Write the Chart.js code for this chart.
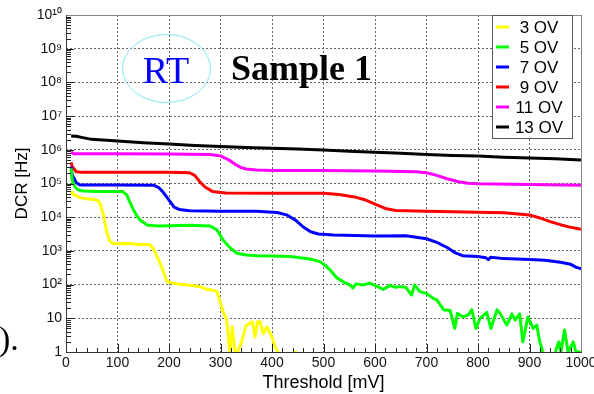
<!DOCTYPE html>
<html>
<head>
<meta charset="utf-8">
<script src="https://cdn.jsdelivr.net/npm/chart.js@4.4.1/dist/chart.umd.min.js"></script>
<style>
  html, body { margin: 0; padding: 0; background: #fff; }
  #dcrChart { display: block; }
</style>
</head>
<body>
<canvas id="dcrChart" width="594" height="394"></canvas>
<script>
// DCR vs threshold, sample 1 at room temperature
const seriesLabels = ["3 OV", "5 OV", "7 OV", "9 OV", "11 OV", "13 OV"];
const seriesColors = ["#ffff00", "#00ff00", "#0000ff", "#ff0000", "#ff00ff", "#000000"];

const xTicks = [0, 100, 200, 300, 400, 500, 600, 700, 800, 900, 1000];
const yTicks = [1, 10, 1e2, 1e3, 1e4, 1e5, 1e6, 1e7, 1e8, 1e9, 1e10];

// threshold [mV] / DCR [Hz]
const ov3X = [10, 15, 21, 27, 40, 60, 66, 72, 79, 85, 91, 100, 118, 130, 140, 150, 163, 169, 176, 183, 190, 196, 208, 220, 235, 248, 260, 274, 285, 293, 299, 305, 312, 318, 323, 328, 333, 341, 350, 357, 362, 367, 372, 377, 383, 390, 400, 406, 412, 420, 441, 448];
const ov3Y = [6.0e4, 4.6e4, 4.3e4, 3.8e4, 3.55e4, 3.24e4, 2.57e4, 1.32e4, 3.7e3, 2.0e3, 1.66e3, 1.62e3, 1.66e3, 1.62e3, 1.55e3, 1.58e3, 1.51e3, 1.2e3, 710, 427, 224, 123, 110, 102, 98, 93, 87, 72, 68, 62, 31, 16, 8.9, 1, 5.6, 1, 1, 2.0, 6.3, 7.1, 7.9, 2.8, 7.9, 7.9, 3.5, 5.6, 2.8, 1.4, 1, null, 1, 1];

const ov5X = [10, 12, 17, 23, 33, 60, 110, 118, 124, 130, 137, 144, 157, 180, 240, 280, 293, 305, 318, 332, 350, 371, 400, 435, 474, 493, 505, 513, 526, 540, 551, 557, 563, 577, 590, 604, 616, 629, 640, 649, 660, 671, 677, 687, 700, 713, 720, 733, 746, 755, 760, 771, 781, 788, 796, 804, 817, 825, 837, 843, 856, 866, 872, 881, 887, 897, 907, 914, 920, 926, 938, 950, 957, 961, 968, 975, 985, 990, 1000];
const ov5Y = [2.8e5, 1.26e5, 8.1e4, 6.5e4, 6.0e4, 5.75e4, 5.75e4, 4.6e4, 2.8e4, 1.8e4, 1.12e4, 8.3e3, 5.9e3, 5.5e3, 5.75e3, 5.5e3, 4.2e3, 2.1e3, 1.26e3, 850, 760, 720, 710, 680, 575, 480, 355, 270, 158, 117, 98, 79, 105, 98, 110, 89, 72, 95, 83, 87, 83, 49, 98, 62, 55, 39, 35, 18, 17, 5.0, 14, 11, 12.6, 18, 5.0, 10, 15, 5.0, 18, 14, 6.3, 13.5, 8.9, 13.5, 2.0, 11, 5.0, 6.3, 2.0, 1, null, 1, 2.0, 1, 4.5, 1, 2.0, 1, 1];

const ov7X = [10, 12, 20, 27, 50, 100, 170, 180, 190, 200, 210, 220, 240, 300, 370, 410, 430, 445, 460, 475, 490, 520, 600, 660, 700, 720, 740, 755, 770, 800, 815, 820, 825, 850, 900, 930, 960, 980, 990, 1000];
const ov7Y = [3.16e5, 1.78e5, 1.05e5, 9.1e4, 9.0e4, 9.0e4, 8.9e4, 7.6e4, 5.2e4, 3.2e4, 2.0e4, 1.7e4, 1.55e4, 1.51e4, 1.51e4, 1.38e4, 1.15e4, 8.3e3, 5.25e3, 3.7e3, 3.16e3, 2.95e3, 2.75e3, 2.82e3, 2.29e3, 1.78e3, 1.26e3, 890, 720, 680, 630, 550, 650, 590, 560, 525, 460, 400, 330, 295];

const ov9X = [10, 12, 20, 30, 100, 150, 200, 240, 250, 260, 270, 285, 310, 400, 500, 530, 560, 580, 600, 620, 640, 700, 800, 850, 900, 920, 940, 960, 980, 1000];
const ov9Y = [4.2e5, 3.2e5, 2.24e5, 2.14e5, 2.14e5, 2.14e5, 2.14e5, 2.09e5, 1.74e5, 1.12e5, 7.9e4, 5.75e4, 5.25e4, 5.13e4, 5.13e4, 4.7e4, 4.0e4, 3.3e4, 2.45e4, 1.82e4, 1.58e4, 1.51e4, 1.41e4, 1.35e4, 1.17e4, 9.5e3, 7.4e3, 6.0e3, 5.0e3, 4.4e3];

const ov11X = [10, 15, 100, 200, 280, 300, 310, 320, 330, 340, 350, 370, 400, 500, 600, 680, 700, 720, 740, 760, 780, 800, 900, 1000];
const ov11Y = [8.7e5, 7.6e5, 7.6e5, 7.5e5, 7.2e5, 6.6e5, 5.6e5, 4.6e5, 3.6e5, 2.95e5, 2.7e5, 2.5e5, 2.45e5, 2.43e5, 2.34e5, 2.24e5, 2.09e5, 1.74e5, 1.38e5, 1.15e5, 1.02e5, 9.8e4, 9.3e4, 8.9e4];

const ov13X = [10, 20, 30, 50, 100, 150, 200, 250, 300, 350, 400, 450, 500, 550, 600, 650, 700, 750, 800, 850, 900, 950, 1000];
const ov13Y = [2.57e6, 2.51e6, 2.34e6, 2.04e6, 1.82e6, 1.62e6, 1.48e6, 1.35e6, 1.26e6, 1.17e6, 1.12e6, 1.05e6, 9.8e5, 9.1e5, 8.5e5, 7.9e5, 7.2e5, 6.8e5, 6.5e5, 6.0e5, 5.75e5, 5.4e5, 5.0e5];

const toPoints = (xs, ys) => xs.map((x, i) => ({ x: x, y: ys[i] }));
const seriesPoints = [
  toPoints(ov3X, ov3Y),
  toPoints(ov5X, ov5Y),
  toPoints(ov7X, ov7Y),
  toPoints(ov9X, ov9Y),
  toPoints(ov11X, ov11Y),
  toPoints(ov13X, ov13Y),
];

const sup = "⁰¹²³⁴⁵⁶⁷⁸⁹";
const decadeLabel = function (v) {
  const e = Math.round(Math.log10(v));
  if (e === 0) return "1";
  if (e === 1) return "10";
  return "10" + String(e).split("").map((d) => sup[d]).join("");
};

const sansFont = "'Liberation Sans', Arial, sans-serif";
const serifFont = "'Liberation Serif', 'Times New Roman', serif";

// minor ticks, frame, legend box and the text boxes ROOT put on the pad
const padDecor = {
  id: "padDecor",
  afterDatasetsDraw(chart) {
    const ctx = chart.ctx;
    const a = chart.chartArea;
    const xs = chart.scales.x;
    const ys = chart.scales.y;
    ctx.save();

    ctx.strokeStyle = "#222";
    ctx.lineWidth = 1;
    ctx.beginPath();
    for (let d = 0; d < 10; d++) {
      for (let k = 1; k < 10; k++) {
        const y = Math.round(ys.getPixelForValue(k * Math.pow(10, d))) + 0.5;
        const len = k === 1 ? 8 : 5;
        ctx.moveTo(a.left, y);
        ctx.lineTo(a.left + len, y);
      }
    }
    for (let v = 0; v <= 1000; v += 20) {
      const x = Math.round(xs.getPixelForValue(v)) + 0.5;
      const len = v % 100 === 0 ? 8 : 4;
      ctx.moveTo(x, a.bottom);
      ctx.lineTo(x, a.bottom - len);
    }
    ctx.stroke();

    // frame
    ctx.strokeStyle = "#888";
    ctx.beginPath();
    ctx.moveTo(a.left, a.top + 0.5);
    ctx.lineTo(a.right + 0.5, a.top + 0.5);
    ctx.lineTo(a.right + 0.5, a.bottom);
    ctx.stroke();
    ctx.strokeStyle = "#333";
    ctx.beginPath();
    ctx.moveTo(a.left + 0.5, a.top);
    ctx.lineTo(a.left + 0.5, a.bottom + 0.5);
    ctx.lineTo(a.right + 1, a.bottom + 0.5);
    ctx.stroke();

    // legend
    ctx.fillStyle = "#fff";
    ctx.fillRect(492, 15, 80, 123);
    ctx.strokeStyle = "#555";
    ctx.strokeRect(492.5, 15.5, 80, 123);
    ctx.font = "17px " + sansFont;
    ctx.textAlign = "center";
    ctx.textBaseline = "middle";
    chart.data.datasets.forEach((ds, i) => {
      const y = 27 + i * 20;
      ctx.strokeStyle = ds.borderColor;
      ctx.lineWidth = 3;
      ctx.beginPath();
      ctx.moveTo(496, y);
      ctx.lineTo(509, y);
      ctx.stroke();
      ctx.fillStyle = "#000";
      ctx.fillText(ds.label, 539, y + 1);
    });

    // RT marker
    ctx.strokeStyle = "#7fe6f0";
    ctx.lineWidth = 1;
    ctx.beginPath();
    ctx.ellipse(166.5, 68.5, 44, 34, 0, 0, Math.PI * 2);
    ctx.stroke();
    ctx.textBaseline = "alphabetic";
    ctx.fillStyle = "#0000ff";
    ctx.font = "38px " + serifFont;
    ctx.textAlign = "center";
    ctx.fillText("RT", 166, 83);
    ctx.fillStyle = "#000";
    ctx.font = "bold 36px " + serifFont;
    ctx.textAlign = "left";
    ctx.fillText("Sample 1", 231, 80);

    // end of a sentence from the page the figure was cut from
    ctx.font = "34px " + serifFont;
    ctx.fillText(").", -1, 350);
    ctx.restore();
  },
};

Chart.defaults.font.family = sansFont;
Chart.defaults.color = "#111";

new Chart(document.getElementById("dcrChart"), {
  type: "line",
  data: {
    datasets: seriesLabels.map((label, i) => ({
      label: label,
      data: seriesPoints[i],
      borderColor: seriesColors[i],
      backgroundColor: seriesColors[i],
      borderWidth: 3,
      pointRadius: 0,
      borderJoinStyle: "round",
      tension: 0,
    })),
  },
  options: {
    responsive: false,
    animation: false,
    devicePixelRatio: 1,
    layout: { padding: { left: 0, right: 13, top: 15, bottom: 0 } },
    plugins: {
      legend: { display: false },
      tooltip: { enabled: false },
    },
    scales: {
      x: {
        type: "linear",
        min: 0,
        max: 1000,
        afterBuildTicks: (s) => {
          s.ticks = xTicks.map((v) => ({ value: v }));
        },
        afterFit: (s) => {
          s.height = 42;
          s.paddingLeft = 0;
          s.paddingRight = 0;
        },
        ticks: {
          font: { size: 14 },
          padding: 3,
          maxRotation: 0,
          callback: (v) => String(v),
        },
        grid: { color: "#666", lineWidth: 1, drawTicks: false },
        border: { display: false, dash: [2, 2] },
        title: {
          display: true,
          text: "Threshold [mV]",
          font: { size: 18 },
          color: "#000",
          padding: { top: 1, bottom: 0 },
        },
      },
      y: {
        type: "logarithmic",
        min: 1,
        max: 1e10,
        afterBuildTicks: (s) => {
          s.ticks = yTicks.map((v) => ({ value: v }));
        },
        afterFit: (s) => {
          s.width = 66;
          s.paddingTop = 0;
          s.paddingBottom = 0;
        },
        ticks: {
          font: { size: 14 },
          padding: 4,
          callback: (v) => decadeLabel(v),
        },
        grid: { color: "#666", lineWidth: 1, drawTicks: false },
        border: { display: false, dash: [2, 2] },
        title: {
          display: true,
          text: "DCR [Hz]",
          font: { size: 17 },
          color: "#000",
          padding: { top: 12, bottom: 0 },
        },
      },
    },
  },
  plugins: [padDecor],
});
</script>
</body>
</html>
